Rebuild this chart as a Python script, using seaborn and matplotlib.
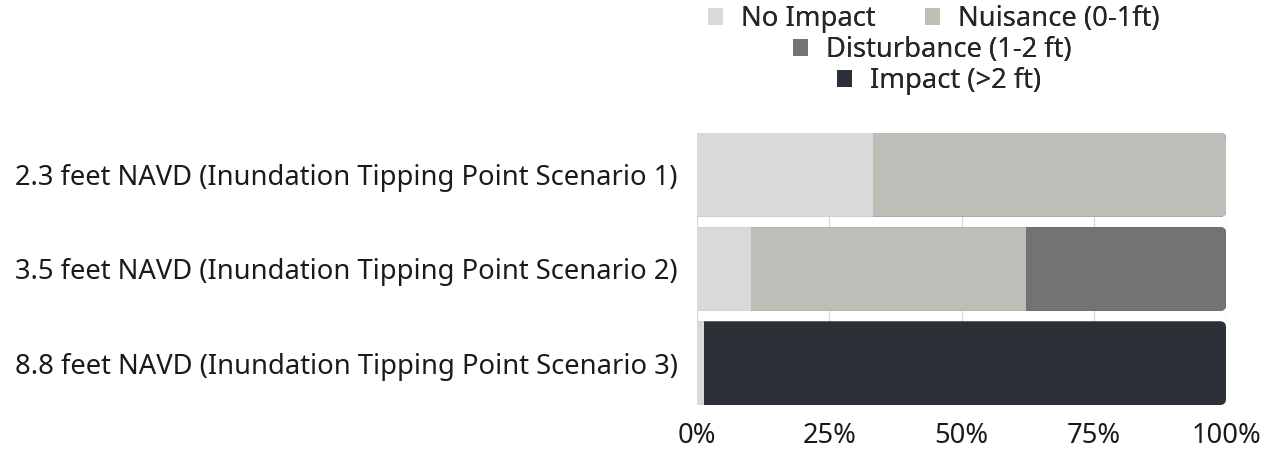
import pandas as pd
import matplotlib.pyplot as plt
import seaborn as sns
from matplotlib.patches import FancyBboxPatch, Patch

categories = [
    "2.3 feet NAVD (Inundation Tipping Point Scenario 1)",
    "3.5 feet NAVD (Inundation Tipping Point Scenario 2)",
    "8.8 feet NAVD (Inundation Tipping Point Scenario 3)",
]
series = ["No Impact", "Nuisance (0-1ft)", "Disturbance (1-2 ft)", "Impact (>2 ft)"]
no_impact = [33.3, 10.2, 1.3]
nuisance = [66.7, 52.0, 0.0]
disturbance = [0.0, 37.8, 0.0]
impact = [0.0, 0.0, 98.7]
colors = ["#D9D9D9", "#BFBFB7", "#737373", "#2A303A"]

df = pd.DataFrame({"cat": categories, series[0]: no_impact, series[1]: nuisance,
                   series[2]: disturbance, series[3]: impact})
cum = df[series].cumsum(axis=1)

sns.set_style("white")
plt.rcParams["font.family"] = ["Noto Sans", "DejaVu Sans"]
fs = 19.7

W, H = 12.75, 4.51
fig = plt.figure(figsize=(W, H), dpi=100)
ax_l, ax_r, ax_t, ax_b = 697, 1226, 133, 405
ax = fig.add_axes([ax_l / 1275, 1 - ax_b / 451, (ax_r - ax_l) / 1275, (ax_b - ax_t) / 451])

bar_h = 0.89
# draw cumulative widths from the last series back to the first (overlay stacking)
for name, col in zip(series[::-1], colors[::-1]):
    sns.barplot(data=cum.assign(cat=df["cat"]), x=name, y="cat", color=col,
                width=bar_h, orient="h", ax=ax, zorder=2, linewidth=0)

ax.set_xlim(0, 100)
ax.set_ylim(2 + bar_h / 2, -bar_h / 2)
ax.set_xticks([0, 25, 50, 75, 100])
ax.set_xticklabels(["0%", "25%", "50%", "75%", "100%"])
ax.grid(axis="x", color="#D9D9D9", linewidth=1, zorder=0)
ax.set_axisbelow(True)
ax.tick_params(axis="x", length=0, pad=12, labelsize=fs, colors="#1a1a1a")
ax.tick_params(axis="y", length=0, pad=14, labelsize=fs, colors="#1a1a1a")
ax.set_xlabel("")
ax.set_ylabel("")
sns.despine(ax=ax, left=True, bottom=True)

# rounded right ends
x_per_px = 100 / (ax_r - ax_l)
y_per_px = (2 + bar_h) / (ax_b - ax_t)
r = 6 * x_per_px
for i in range(len(categories)):
    clip = FancyBboxPatch((-10, i - bar_h / 2), 110, bar_h,
                          boxstyle=f"round,pad=0,rounding_size={r}",
                          mutation_aspect=y_per_px / x_per_px,
                          transform=ax.transData, facecolor="none", edgecolor="none")
    ax.add_patch(clip)
    for p in ax.patches:
        if isinstance(p, FancyBboxPatch):
            continue
        cy = p.get_y() + p.get_height() / 2
        if abs(cy - i) < 0.3:
            p.set_clip_path(clip)

# legend wrapped over three centered rows
rows = [[0, 1], [2], [3]]
ys = [1 - 19 / 451, 1 - 50 / 451, 1 - 81 / 451]
xs = [934 / 1275, 932 / 1275, 939 / 1275]
for row, xx, yy in zip(rows, xs, ys):
    handles = [Patch(facecolor=colors[k], edgecolor="none") for k in row]
    leg = fig.legend(handles, [series[k] for k in row], loc="center",
                     bbox_to_anchor=(xx, yy), ncol=len(row), frameon=False,
                     fontsize=fs, handlelength=0.55, handleheight=0.55,
                     handletextpad=0.65, columnspacing=1.8, borderpad=0)
    fig.add_artist(leg)

fig.savefig("out.png", dpi=100)
